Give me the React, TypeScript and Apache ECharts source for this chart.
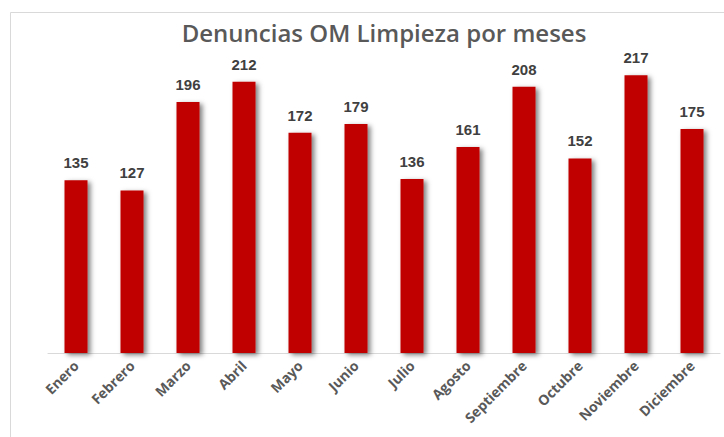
import React, { useEffect, useRef } from "react";
import * as echarts from "echarts";

const months = ["Enero", "Febrero", "Marzo", "Abril", "Mayo", "Junio", "Julio", "Agosto", "Septiembre", "Octubre", "Noviembre", "Diciembre"];
const denuncias = [135, 127, 196, 212, 172, 179, 136, 161, 208, 152, 217, 175];
const chartTitle = "Denuncias OM Limpieza por meses";

export default function App() {
  const ref = useRef<HTMLDivElement>(null);
  useEffect(() => {
    document.body.style.margin = "0";
    const chart = echarts.init(ref.current!, null, { renderer: "svg" });
    chart.setOption({
      animation: false,
      backgroundColor: "#ffffff",
      title: {
        text: chartTitle,
        left: 379,
        top: 15,
        textAlign: "center",
        textStyle: { fontFamily: "Open Sans", fontWeight: 600, fontSize: 24, color: "#595959" },
      },
      graphic: [
        {
          type: "rect",
          shape: { x: 10.5, y: 12.5, width: 800, height: 600 },
          style: { fill: "none", stroke: "#d9d9d9", lineWidth: 1 },
          silent: true,
        },
      ],
      grid: { left: 48, right: 4, top: 33, bottom: 84, containLabel: false },
      xAxis: {
        type: "category",
        data: months,
        axisLine: { show: true, lineStyle: { color: "#d9d9d9", width: 1 } },
        axisTick: { show: false },
        axisLabel: {
          rotate: 45,
          interval: 0,
          margin: 10,
          fontFamily: "Open Sans",
          fontWeight: 700,
          fontSize: 14,
          color: "#595959",
        },
      },
      yAxis: {
        type: "value",
        min: 0,
        max: 250,
        show: false,
        splitLine: { show: false },
      },
      series: [
        {
          type: "bar",
          data: denuncias,
          barWidth: 23,
          itemStyle: {
            color: "#c00000",
            shadowColor: "rgba(0,0,0,0.5)",
            shadowBlur: 5,
            shadowOffsetX: 3,
            shadowOffsetY: 2,
          },
          label: {
            show: true,
            position: "top",
            distance: 10,
            fontFamily: "Liberation Sans",
            fontWeight: "bold",
            fontSize: 15,
            color: "#404040",
          },
        },
      ],
    });
    return () => chart.dispose();
  }, []);
  return <div ref={ref} style={{ width: 724, height: 437 }} />;
}
